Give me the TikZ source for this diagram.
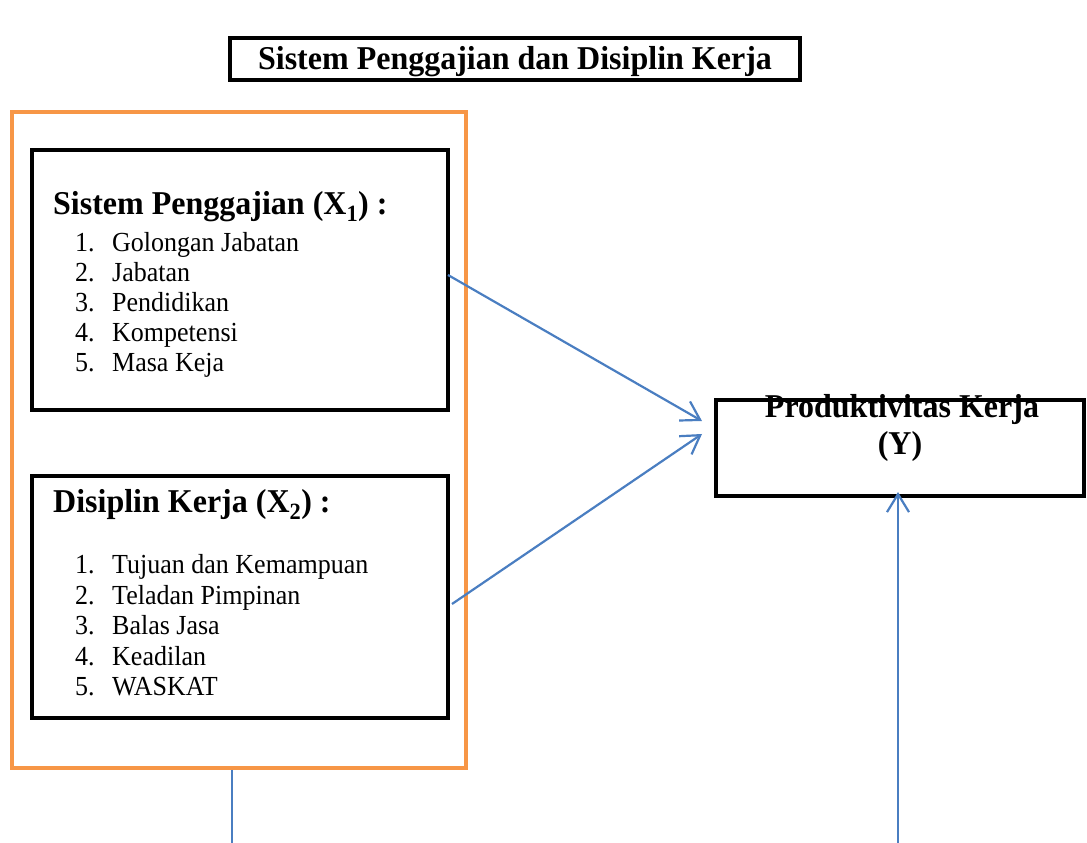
\documentclass[tikz,border=0pt]{standalone}
\usepackage{fontspec}
\setmainfont{Liberation Serif}
\usetikzlibrary{arrows.meta}
\definecolor{orng}{RGB}{247,150,70}
\definecolor{blu}{RGB}{74,126,193}
\newcommand{\tallh}[1]{\scalebox{1}[1.04]{#1}}
\newcommand{\talli}[1]{\scalebox{1}[1.06]{#1}}
\tikzset{
  blackbox/.style={draw=black, line width=4.5pt, minimum width=#1, inner sep=0pt},
  head/.style={font=\fontsize{32}{36}\selectfont\bfseries, inner sep=0pt, anchor=base west},
  item/.style={font=\fontsize{26}{30}\selectfont, inner sep=0pt, anchor=base west},
  conn/.style={draw=blu, line width=2.2pt},
  arr/.style={conn, -{Straight Barb[length=18pt,width=22pt,line width=2.2pt]}}
}
\begin{document}
\begin{tikzpicture}[x=1pt,y=1pt]
\useasboundingbox (0,0) rectangle (1087,843);
% title
\node[blackbox=570pt, minimum height=42pt] (title) at (515,784) {};
\node[font=\fontsize{32}{36}\selectfont\bfseries, inner sep=0pt, anchor=base] (titletxt) at (515,773) {\tallh{Sistem Penggajian dan Disiplin Kerja}};
% orange group
\node[draw=orng, line width=4pt, minimum width=454pt, minimum height=656pt, inner sep=0pt] (grp) at (239,403) {};
% X1 box
\node[blackbox=416pt, minimum height=260pt] (x1) at (240,563) {};
\node[head] (x1h) at (53,628) {\tallh{Sistem Penggajian (X\textsubscript{1}) :}};
\node[item] (x1n1) at (75,591) {\talli{1.}};
\node[item] (x1t1) at (112,591) {\talli{Golongan Jabatan}};
\node[item] (x1n2) at (75,561) {\talli{2.}};
\node[item] (x1t2) at (112,561) {\talli{Jabatan}};
\node[item] (x1n3) at (75,531) {\talli{3.}};
\node[item] (x1t3) at (112,531) {\talli{Pendidikan}};
\node[item] (x1n4) at (75,501) {\talli{4.}};
\node[item] (x1t4) at (112,501) {\talli{Kompetensi}};
\node[item] (x1n5) at (75,471) {\talli{5.}};
\node[item] (x1t5) at (112,471) {\talli{Masa Keja}};
% X2 box
\node[blackbox=416pt, minimum height=242pt] (x2) at (240,246) {};
\node[head] (x2h) at (53,330) {\tallh{Disiplin Kerja (X\textsubscript{2}) :}};
\node[item] (x2n1) at (75,269) {\talli{1.}};
\node[item] (x2t1) at (112,269) {\talli{Tujuan dan Kemampuan}};
\node[item] (x2n2) at (75,238.5) {\talli{2.}};
\node[item] (x2t2) at (112,238.5) {\talli{Teladan Pimpinan}};
\node[item] (x2n3) at (75,208) {\talli{3.}};
\node[item] (x2t3) at (112,208) {\talli{Balas Jasa}};
\node[item] (x2n4) at (75,177.5) {\talli{4.}};
\node[item] (x2t4) at (112,177.5) {\talli{Keadilan}};
\node[item] (x2n5) at (75,147) {\talli{5.}};
\node[item] (x2t5) at (112,147) {\talli{WASKAT}};
% Y box
\node[blackbox=368pt, minimum height=96pt] (y) at (900,395) {};
\node[font=\fontsize{32}{36}\selectfont\bfseries, inner sep=0pt, anchor=base] (yt1) at (902,425) {\tallh{Produktivitas Kerja}};
\node[font=\fontsize{32}{36}\selectfont\bfseries, inner sep=0pt, anchor=base] (yt2) at (900,388) {\tallh{(Y)}};
% connector ends
\coordinate (a1s) at (448,568);
\coordinate (a1e) at (702,422);
\coordinate (a2s) at (452,239);
\coordinate (a2e) at (702,409);
\coordinate (vs) at (898,0);
\coordinate (ve) at (898,351);
\coordinate (ls) at (232,0);
\draw[arr] (a1s) -- (a1e);
\draw[arr] (a2s) -- (a2e);
\draw[arr] (vs) -- (ve);
\draw[conn] (grp.south -| ls) -- (ls);
\end{tikzpicture}
\end{document}
